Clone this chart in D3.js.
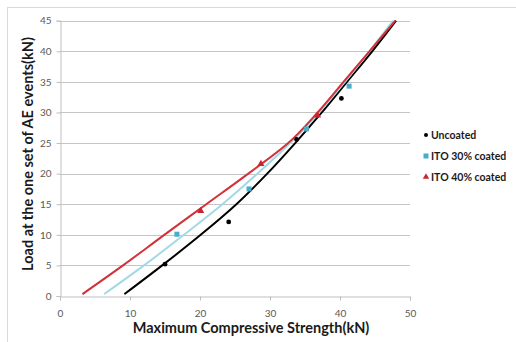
<!DOCTYPE html>
<html>
<head>
<meta charset="utf-8">
<script src="https://cdn.jsdelivr.net/npm/d3@7"></script>
<style>
  body { margin: 0; background: #fff; }
  svg { display: block; font-family: Lato, "Open Sans", sans-serif; }
</style>
</head>
<body>
<svg id="chart" width="516" height="342"></svg>
<script>
// measured points
const uncoatedX = [15, 24.1, 33.8, 40.2];
const uncoatedY = [5.2, 12.1, 25.6, 32.3];
const ito30X = [16.7, 27.0, 35.2, 41.3];
const ito30Y = [10.1, 17.5, 27.3, 34.3];
const ito40X = [20.1, 28.7, 36.8];
const ito40Y = [13.9, 21.6, 29.5];

// trend lines (load level -> strength)
const trendY = [0.3, 5, 10, 15, 20, 25, 30, 35, 40, 45];
const uncoatedTrendX = [9.2, 14.6, 20.1, 25.2, 29.6, 33.6, 37.4, 41.0, 44.6, 48.0];
const ito30TrendX = [6.3, 12.0, 17.7, 23.2, 28.2, 32.9, 37.0, 40.7, 44.2, 47.6];
const ito40TrendX = [3.2, 9.0, 14.9, 20.9, 26.9, 32.6, 36.8, 40.5, 44.2, 47.9];

const xTicks = [0, 10, 20, 30, 40, 50];
const yTicks = [0, 5, 10, 15, 20, 25, 30, 35, 40, 45];
const legendLabels = ["Uncoated", "ITO 30% coated", "ITO 40% coated"];

const svg = d3.select("#chart");

// chart area border (right/bottom are cropped in the original)
svg.append("rect")
  .attr("x", 7.5).attr("y", 7.5)
  .attr("width", 530).attr("height", 360)
  .attr("fill", "none").attr("stroke", "#d9d9d9");

const x = d3.scaleLinear().domain([0, 50]).range([60, 410]);
const y = d3.scaleLinear().domain([0, 45]).range([296, 20.7]);

// gridlines
svg.append("g")
  .selectAll("line")
  .data(yTicks.filter((d) => d > 0))
  .join("line")
  .attr("x1", x(0)).attr("x2", x(50))
  .attr("y1", (d) => Math.round(y(d)) + 0.5)
  .attr("y2", (d) => Math.round(y(d)) + 0.5)
  .attr("stroke", "#c4c4c4");

// axes
const yAxis = svg.append("g")
  .attr("transform", "translate(60.5,0)")
  .call(d3.axisLeft(y).tickValues(yTicks).tickSize(4).tickPadding(5));
const xAxis = svg.append("g")
  .attr("transform", "translate(0," + (Math.round(y(0)) + 0.5) + ")")
  .call(d3.axisBottom(x).tickValues(xTicks).tickSize(4).tickPadding(9));

[xAxis, yAxis].forEach((g) => {
  g.select(".domain").attr("stroke", "#bfbfbf");
  g.selectAll(".tick line").attr("stroke", "#bfbfbf");
  g.selectAll(".tick text")
    .attr("fill", "#595959")
    .style("font-size", "10px")
    .style("font-family", "Lato, 'Open Sans', sans-serif");
});

// trend lines
const line = d3.line()
  .x((d) => x(d[0]))
  .y((d) => y(d[1]))
  .curve(d3.curveMonotoneY);

const trends = [
  { xs: uncoatedTrendX, color: "#000000" },
  { xs: ito30TrendX, color: "#a3d9e7" },
  { xs: ito40TrendX, color: "#d3303a" },
];
trends.forEach((t) => {
  svg.append("path")
    .datum(t.xs.map((v, i) => [v, trendY[i]]))
    .attr("d", line)
    .attr("fill", "none")
    .attr("stroke", t.color)
    .attr("stroke-width", 2);
});

// markers
svg.append("g")
  .selectAll("circle")
  .data(uncoatedX.map((v, i) => [v, uncoatedY[i]]))
  .join("circle")
  .attr("cx", (d) => x(d[0]))
  .attr("cy", (d) => y(d[1]))
  .attr("r", 2.4)
  .attr("fill", "#000");

svg.append("g")
  .selectAll("rect")
  .data(ito30X.map((v, i) => [v, ito30Y[i]]))
  .join("rect")
  .attr("x", (d) => x(d[0]) - 2.5)
  .attr("y", (d) => y(d[1]) - 2.5)
  .attr("width", 5).attr("height", 5)
  .attr("fill", "#4bacc6");

const tri = d3.symbol().type(d3.symbolTriangle).size(22);
svg.append("g")
  .selectAll("path")
  .data(ito40X.map((v, i) => [v, ito40Y[i]]))
  .join("path")
  .attr("d", tri)
  .attr("transform", (d) => "translate(" + x(d[0]) + "," + y(d[1]) + ")")
  .attr("fill", "#c8262f");

// legend
const legend = svg.append("g").attr("transform", "translate(426,0)");
const legendY = [135, 156, 177];
legend.append("circle").attr("cx", 0).attr("cy", legendY[0]).attr("r", 2).attr("fill", "#000");
legend.append("rect").attr("x", -2.5).attr("y", legendY[1] - 2.5).attr("width", 5).attr("height", 5).attr("fill", "#4bacc6");
legend.append("path").attr("d", d3.symbol().type(d3.symbolTriangle).size(18))
  .attr("transform", "translate(0," + legendY[2] + ")").attr("fill", "#c8262f");
legend.selectAll("text")
  .data(legendLabels)
  .join("text")
  .attr("x", 5)
  .attr("y", (d, i) => legendY[i])
  .attr("dy", "0.35em")
  .attr("fill", "#1a1a1a")
  .style("font-size", "10.5px")
  .style("font-weight", "bold")
  .text((d) => d);

// axis titles
svg.append("text")
  .attr("x", 251).attr("y", 333)
  .attr("text-anchor", "middle")
  .attr("fill", "#1a1a1a")
  .style("font-size", "14.5px")
  .style("font-weight", "bold")
  .text("Maximum Compressive Strength(kN)");

svg.append("text")
  .attr("transform", "translate(33,154) rotate(-90)")
  .attr("text-anchor", "middle")
  .attr("fill", "#1a1a1a")
  .style("font-size", "14.5px")
  .style("font-weight", "bold")
  .text("Load at the one set of AE events(kN)");
</script>
</body>
</html>
